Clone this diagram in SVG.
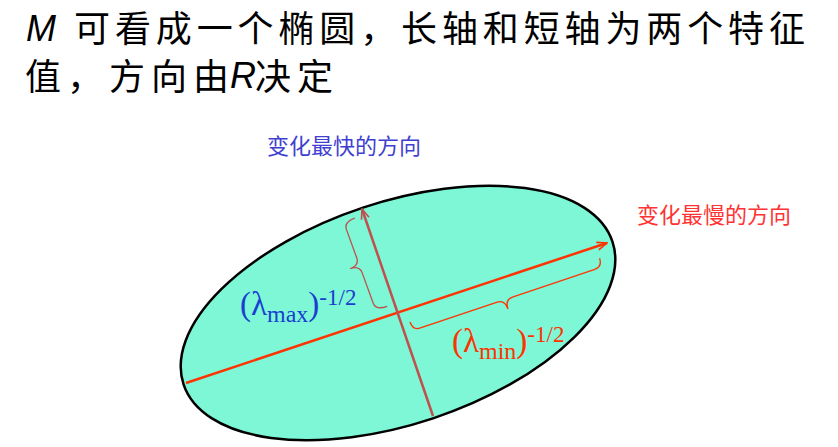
<svg xmlns="http://www.w3.org/2000/svg" width="838" height="447" viewBox="0 0 838 447">
<style>
.cjk{font-family:"Noto Sans CJK SC","Noto Sans",sans-serif;}
.lat{font-family:"Liberation Sans",Arial,sans-serif;font-style:italic;}
.math{font-family:"Liberation Serif","Times New Roman",serif;}
.brace{fill:none;stroke-width:1.3;}
</style>
<defs>
<marker id="arrR" viewBox="0 0 12 10" refX="11" refY="5" markerWidth="12" markerHeight="10" markerUnits="userSpaceOnUse" orient="auto"><path d="M1,1 L11,5 L1,9" fill="none" stroke="#FF3300" stroke-width="1.6"/></marker>
<marker id="arrB" viewBox="0 0 12 10" refX="11" refY="5" markerWidth="12" markerHeight="10" markerUnits="userSpaceOnUse" orient="auto"><path d="M1,1 L11,5 L1,9" fill="none" stroke="#C0504D" stroke-width="1.6"/></marker>
</defs>
<rect width="838" height="447" fill="#FFFFFF"/>
<g id="title">
<text class="lat" x="26" y="41" font-size="36" fill="#000">M</text>
<text class="cjk" x="74" y="42" font-size="36" fill="#000" textLength="731" lengthAdjust="spacing">可看成一个椭圆，长轴和短轴为两个特征</text>
<text class="cjk" x="25" y="90" font-size="36" fill="#000" textLength="204" lengthAdjust="spacing">值，方向由</text>
<text class="lat" x="230" y="88" font-size="36" fill="#000">R</text>
<text class="cjk" x="255" y="90" font-size="36" fill="#000" textLength="78" lengthAdjust="spacing">决定</text>
</g>
<g id="ellipse">
<ellipse cx="398" cy="313" rx="226" ry="111" transform="rotate(-18.4 398 313)" fill="#7DF7D6" stroke="#000" stroke-width="2.5"/>
</g>
<g id="connectors">
<line x1="186" y1="383" x2="607" y2="243" stroke="#FF3300" stroke-width="2.5" marker-end="url(#arrR)"/>
<line x1="433" y1="416" x2="362" y2="209" stroke="#C0504D" stroke-width="2.5" marker-end="url(#arrB)"/>
</g>
<g id="braces">
<path class="brace" stroke="#C0504D" transform="translate(355,218) rotate(70)" d="M0,0 Q0,12 8,12 L38,12 Q46,12 46,22 Q46,12 54,12 L86,12 Q94,12 94,0"/>
<path class="brace" stroke="#FF3300" transform="translate(410,322) rotate(-18.6)" d="M0,0 Q0,9 8,9 L89,9 Q97,9 97,19 Q97,9 105,9 L192,9 Q200,9 200,0"/>
</g>
<g id="label-fast">
<text class="cjk" x="267" y="154" font-size="22" fill="#4040D0">变化最快的方向</text>
</g>
<g id="label-slow">
<text class="cjk" x="637" y="223" font-size="22" fill="#FF3333">变化最慢的方向</text>
</g>
<g id="label-max">
<text class="math" x="240" y="315" font-size="33" fill="#1A3FD0">(λ<tspan dy="7" font-size="24">max</tspan><tspan dy="-7">)</tspan><tspan dy="-10" font-size="23">-1/2</tspan></text>
</g>
<g id="label-min">
<text class="math" x="452" y="352" font-size="33" fill="#FF3300">(λ<tspan dy="7" font-size="24">min</tspan><tspan dy="-7">)</tspan><tspan dy="-10" font-size="23">-1/2</tspan></text>
</g>
</svg>
